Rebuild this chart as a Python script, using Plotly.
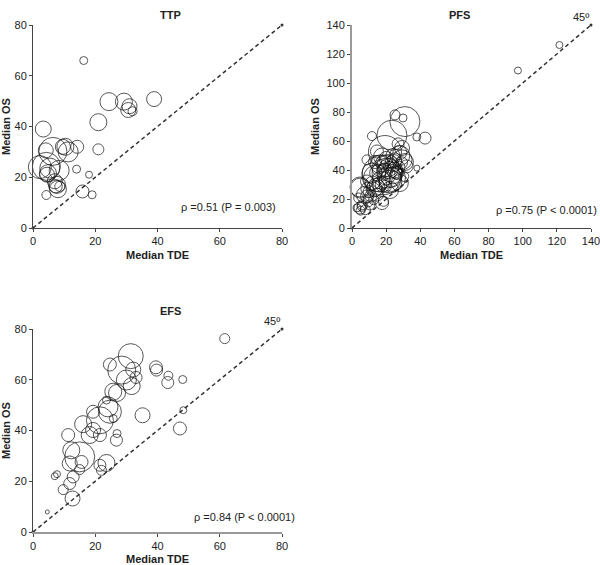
import plotly.graph_objects as go

# ---------------- data ----------------
ttp_tde = [16.3, 24.4, 29.2, 31.0, 30.6, 32.0, 38.9, 21.0, 3.3, 4.1, 6.4, 10.4, 11.3, 14.2, 21.0,
           4.3, 5.4, 8.4, 4.8, 4.5, 7.0, 7.7, 7.3, 8.6, 8.0, 4.3, 14.0, 18.0, 15.9, 19.0, 2.2, 9.6]
ttp_os = [66.0, 49.8, 49.8, 48.0, 46.5, 46.0, 50.8, 41.7, 39.0, 30.6, 30.2, 32.0, 30.0, 32.0, 31.0,
          24.3, 23.6, 22.7, 21.6, 21.0, 18.4, 17.0, 16.4, 16.4, 15.3, 13.0, 23.2, 21.0, 14.4, 13.1,
          24.0, 32.0]
ttp_n = [8, 18, 17, 15, 15, 9, 15, 17, 16, 15, 28, 17, 20, 13, 11,
         28, 20, 20, 17, 15, 15, 17, 13, 10, 17, 9, 8, 7, 13, 8, 23, 15]

pfs_tde = [121.5, 97.2, 38.0, 31.0, 25.2, 29.9, 42.8, 38.0, 11.7, 23.4, 19.3, 28.0, 13.5,
           17.6, 23.4, 4.7, 7.6, 4.7, 17.6, 10.5, 22.3, 28.0, 29.3, 31.0,
           8.8, 14.6, 29.3, 32.0, 20.5, 16.6, 11.7, 22.5, 14.6, 8.8, 4.9, 3.9, 8.8, 5.9, 2.9, 7.8,
           18.5, 14.6, 17.6, 24.4, 30.3, 19.5, 12.7, 26.4, 28.0, 25.0, 18.0, 20.0, 22.0,
           16.0, 10.0, 6.0, 13.0, 27.0, 23.0, 19.0, 15.0, 9.5, 5.0, 24.0, 29.0, 17.0,
           21.0, 19.0, 25.0, 14.0, 12.0, 26.0, 21.5, 18.0, 11.0, 16.0, 24.0, 27.5, 20.0, 9.0]
pfs_os = [126.2, 108.6, 41.3, 73.4, 78.0, 75.9, 62.0, 62.8, 63.4, 64.0, 52.4, 50.0, 45.5,
          36.6, 34.5, 28.3, 22.8, 13.8, 17.2, 15.9, 26.2, 31.0, 55.2, 45.5,
          47.0, 52.8, 47.0, 42.5, 37.9, 41.3, 37.9, 32.1, 34.4, 32.1, 27.5, 20.7, 21.8, 14.9, 13.8, 12.6,
          18.4, 23.0, 49.3, 44.8, 35.6, 28.7, 19.5, 37.9, 52.0, 40.0, 45.0, 36.0, 42.0,
          30.0, 25.0, 16.0, 27.0, 58.0, 35.0, 40.0, 38.0, 18.0, 12.0, 50.0, 45.0, 33.0,
          43.0, 39.0, 47.0, 28.0, 31.0, 38.0, 41.0, 30.0, 22.0, 44.0, 36.0, 42.0, 48.0, 27.0]
pfs_n = [7, 7, 6, 30, 10, 8, 12, 8, 9, 30, 33, 20, 13,
         40, 27, 20, 17, 12, 13, 10, 17, 17, 15, 17,
         10, 13, 20, 13, 30, 17, 20, 23, 27, 13, 20, 10, 13, 10, 8, 10,
         10, 13, 17, 17, 10, 12, 10, 13, 14, 16, 14, 18, 12,
         15, 12, 10, 16, 12, 20, 14, 16, 10, 9, 14, 12, 18,
         22, 16, 14, 18, 14, 12, 20, 15, 12, 18, 16, 12, 14, 13]

efs_tde = [61.6, 48.1, 48.3, 47.2, 43.3, 43.5, 39.5, 39.7, 35.2, 31.4, 28.5, 30.0, 31.7, 32.2,
           33.1, 24.7, 25.8, 23.6, 24.7, 19.3, 21.5, 16.1, 25.8, 18.2, 21.5, 11.3, 27.0, 26.8,
           15.0, 12.3, 11.8, 12.9, 11.8, 9.7, 7.0, 7.7, 12.7, 4.6, 15.0, 15.6, 21.5, 22.0, 23.6,
           27.0, 24.1, 19.3]
efs_os = [76.2, 60.1, 48.0, 40.8, 58.9, 61.6, 64.9, 63.8, 46.0, 69.3, 63.8, 59.9, 57.5, 64.0,
          60.9, 66.0, 55.3, 52.0, 47.4, 47.4, 44.0, 42.5, 44.7, 38.2, 38.2, 38.2, 38.8, 36.2,
          29.6, 32.2, 27.0, 21.7, 19.1, 16.7, 22.0, 22.8, 13.2, 7.9, 24.6, 27.6, 26.3, 24.3, 27.2,
          54.8, 49.3, 40.2]
efs_n = [10, 8, 7, 13, 12, 9, 13, 12, 15, 25, 28, 20, 17, 15,
         12, 13, 17, 8, 23, 13, 27, 17, 8, 17, 13, 13, 8, 12,
         30, 17, 15, 12, 12, 10, 7, 7, 15, 4, 10, 13, 12, 10, 17,
         17, 20, 15]

panels = [
    dict(title="TTP", x=ttp_tde, y=ttp_os, n=ttp_n, max=80, dtick=20,
         note="ρ =0.51 (P = 0.003)", deg=False),
    dict(title="PFS", x=pfs_tde, y=pfs_os, n=pfs_n, max=140, dtick=20,
         note="ρ =0.75 (P < 0.0001)", deg=True),
    dict(title="EFS", x=efs_tde, y=efs_os, n=efs_n, max=80, dtick=20,
         note="ρ =0.84 (P < 0.0001)", deg=True),
]

W, H = 600, 565
# plot boxes in pixels: (x0, x1, ytop, ybottom)
boxes = [(33, 282, 25, 228), (352, 591, 25, 228), (33, 282, 329, 532)]
# note anchor (right edge, vertical centre) in axis-domain fractions
note_pos = [(0.985, 0.103), (1.035, 0.09), (1.06, 0.075)]

FONT = "Liberation Sans, Arial, sans-serif"
FS = 11
fig = go.Figure()
layout = dict(width=W, height=H, margin=dict(l=0, r=0, t=0, b=0),
              paper_bgcolor="white", plot_bgcolor="white", showlegend=False,
              font=dict(family=FONT, size=FS, color="#222"))
annotations = []

for i, (p, b) in enumerate(zip(panels, boxes)):
    k = "" if i == 0 else str(i + 1)
    xa, ya = "x" + k, "y" + k
    x0, x1, yt, yb = b
    dom_x = [x0 / W, x1 / W]
    dom_y = [1 - yb / H, 1 - yt / H]
    m = p["max"]
    # identity line
    fig.add_trace(go.Scatter(x=[0, m], y=[0, m], mode="lines+markers",
                             line=dict(color="#333", width=1.5, dash="4px,3px"),
                             marker=dict(size=3, color="#333"),
                             xaxis=xa, yaxis=ya, cliponaxis=False, hoverinfo="skip"))
    fig.add_trace(go.Scatter(x=p["x"], y=p["y"], mode="markers",
                             marker=dict(size=p["n"], sizemode="diameter",
                                         color="rgba(0,0,0,0)",
                                         line=dict(color="#111", width=1)),
                             xaxis=xa, yaxis=ya, cliponaxis=False))
    axcommon = dict(range=[0, m], dtick=p["dtick"], showgrid=False, zeroline=False,
                    showline=True, linecolor="#444", linewidth=1, automargin=False,
                    ticks="outside", ticklen=3, tickcolor="#444",
                    ticklabeloverflow="allow",
                    tickfont=dict(family=FONT, size=FS, color="#222"))
    xl = dict(axcommon, domain=dom_x, anchor=ya,
              title=dict(text="<b>Median TDE</b>", standoff=5,
                         font=dict(family=FONT, size=FS, color="#222")))
    yl = dict(axcommon, domain=dom_y, anchor=xa,
              title=dict(text="<b>Median OS</b>", standoff=5,
                         font=dict(family=FONT, size=FS, color="#222")))
    if i == 1:
        yl["linecolor"] = "#999"
        yl["linewidth"] = 2
    if i == 2:
        xl["linecolor"] = "#999"
        xl["linewidth"] = 2
    layout["xaxis" + k] = xl
    layout["yaxis" + k] = yl
    annotations.append(dict(text="<b>" + p["title"] + "</b>", xref="paper", yref="paper",
                            x=(x0 + x1) / 2 / W, y=1 - (yt - 18) / H, showarrow=False,
                            font=dict(family=FONT, size=FS, color="#222")))
    nx, ny = note_pos[i]
    annotations.append(dict(text=p["note"], xref=xa + " domain", yref=ya + " domain",
                            x=nx, y=ny, xanchor="right", yanchor="middle", showarrow=False,
                            font=dict(family=FONT, size=FS, color="#222")))
    if p["deg"]:
        annotations.append(dict(text="45º", xref=xa + " domain", yref=ya + " domain",
                                x=1.0, y=1.0, xanchor="right", yanchor="bottom",
                                showarrow=False,
                                font=dict(family=FONT, size=FS, color="#222")))

layout["annotations"] = annotations
fig.update_layout(**layout)
fig.write_html("out.html", config={"displayModeBar": False},
               post_script="document.body.style.margin='0';document.body.style.overflow='hidden';")
